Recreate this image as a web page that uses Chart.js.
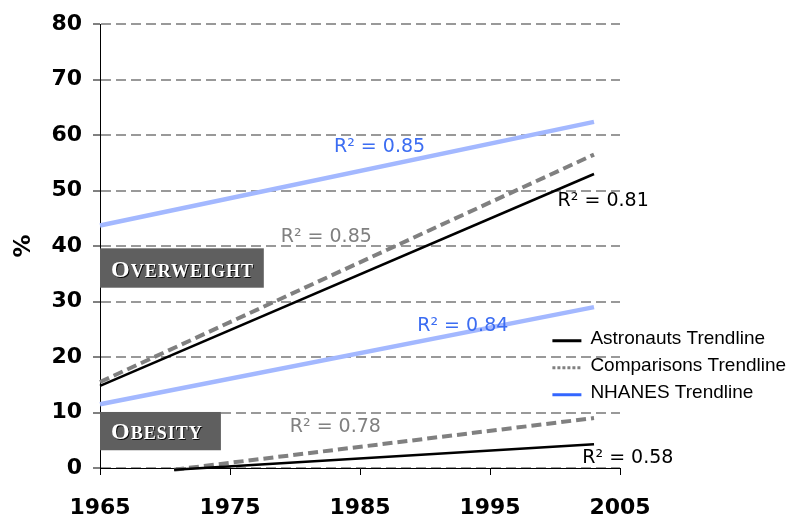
<!DOCTYPE html>
<html>
<head>
<meta charset="utf-8">
<script src="https://cdn.jsdelivr.net/npm/chart.js@4.4.0/dist/chart.umd.min.js"></script>
<style>
  html, body { margin: 0; padding: 0; background: #fff; }
  #wrap { width: 803px; height: 521px; }
</style>
</head>
<body>
<div id="wrap"><canvas id="trendChart"></canvas></div>
<script>
// trendline end points
const trendYears = [1965, 2003];
const obesityYears = [1970.7, 2003];
const astronautsOverweight = [14.8, 53.0];
const comparisonsOverweight = [15.5, 56.5];
const nhanesOverweight = [43.7, 62.4];
const astronautsObesity = [-0.3, 4.3];
const comparisonsObesity = [-0.3, 9.0];
const nhanesObesity = [11.5, 29.0];

const xTicks = [1965, 1975, 1985, 1995, 2005];
const yTicks = [0, 10, 20, 30, 40, 50, 60, 70, 80];

const legendLabels = ['Astronauts Trendline', 'Comparisons Trendline', 'NHANES Trendline'];
const r2Values = ['0.85', '0.81', '0.85', '0.84', '0.78', '0.58'];

const BLACK = '#000000';
const GRAY = '#808080';
const GRID_GRAY = '#999999';
const LIGHT_BLUE = '#a3b8ff';
const BLUE_TEXT = '#3c6df2';
const LEGEND_BLUE = '#3366ff';

function pts(xs, ys) {
    return xs.map((x, i) => ({ x: x, y: ys[i] }));
}

// where the R² labels sit (data units) and their colour
const r2Places = [
    { x: 1983.0, y: 57.9, color: BLUE_TEXT },
    { x: 2000.2, y: 48.1, color: BLACK },
    { x: 1978.9, y: 41.6, color: GRAY },
    { x: 1989.4, y: 25.5, color: BLUE_TEXT },
    { x: 1979.6, y: 7.4, color: GRAY },
    { x: 2002.1, y: 1.8, color: BLACK }
];

function drawBox(ctx, x, y, x0, x1, yTop, yBot, first, rest) {
    const left = x.getPixelForValue(x0);
    const right = x.getPixelForValue(x1);
    const top = y.getPixelForValue(yTop);
    const bottom = y.getPixelForValue(yBot);
    ctx.fillStyle = '#5f5f5f';
    ctx.fillRect(left, top, right - left, bottom - top);
    ctx.save();
    ctx.fillStyle = '#ffffff';
    ctx.shadowColor = 'rgba(0,0,0,0.9)';
    ctx.shadowOffsetX = 1;
    ctx.shadowOffsetY = 1;
    ctx.textBaseline = 'alphabetic';
    ctx.textAlign = 'left';
    ctx.letterSpacing = '1px';
    ctx.font = 'bold 24px "Liberation Serif"';
    const tx = left + 11;
    const ty = bottom - 11;
    ctx.fillText(first, tx, ty);
    const w = ctx.measureText(first).width;
    ctx.font = 'bold 18px "Liberation Serif"';
    ctx.fillText(rest, tx + w, ty);
    ctx.restore();
}

const annotations = {
    id: 'annotations',
    afterDatasetsDraw(chart) {
        const { ctx, scales: { x, y } } = chart;
        ctx.save();

        drawBox(ctx, x, y, 1965, 1977.6, 39.6, 32.5, 'O', 'VERWEIGHT');
        drawBox(ctx, x, y, 1965, 1974.3, 10.1, 3.2, 'O', 'BESITY');

        // R² labels
        ctx.font = '19px "DejaVu Sans"';
        ctx.textAlign = 'left';
        ctx.textBaseline = 'middle';
        r2Places.forEach((p, i) => {
            ctx.fillStyle = p.color;
            ctx.fillText('R² = ' + r2Values[i], x.getPixelForValue(p.x), y.getPixelForValue(p.y));
        });

        // legend
        const lx = x.getPixelForValue(1999.8);
        let ly = y.getPixelForValue(23.3);
        const samples = [
            { color: BLACK, width: 3, dash: [] },
            { color: GRAY, width: 3, dash: [3, 2] },
            { color: LEGEND_BLUE, width: 3, dash: [] }
        ];
        ctx.font = '19px "Liberation Sans"';
        ctx.textBaseline = 'middle';
        legendLabels.forEach((label, i) => {
            const s = samples[i];
            ctx.beginPath();
            ctx.setLineDash(s.dash);
            ctx.lineWidth = s.width;
            ctx.strokeStyle = s.color;
            ctx.moveTo(lx, ly + 2);
            ctx.lineTo(lx + 29, ly + 2);
            ctx.stroke();
            ctx.setLineDash([]);
            ctx.fillStyle = BLACK;
            ctx.fillText(label, lx + 38, ly);
            ly += 27;
        });

        ctx.restore();
    }
};

const tickFont = { family: 'DejaVu Sans', size: 22, weight: 'bold' };

const trendChart = new Chart(document.getElementById('trendChart').getContext('2d'), {
    type: 'line',
    data: {
        datasets: [
            {
                label: 'Astronauts overweight',
                data: pts(trendYears, astronautsOverweight),
                borderColor: BLACK,
                borderWidth: 2.5
            },
            {
                label: 'Astronauts obesity',
                data: pts(obesityYears, astronautsObesity),
                borderColor: BLACK,
                borderWidth: 2.5
            },
            {
                label: 'Comparisons overweight',
                data: pts(trendYears, comparisonsOverweight),
                borderColor: GRAY,
                borderWidth: 4,
                borderDash: [10, 5]
            },
            {
                label: 'Comparisons obesity',
                data: pts(obesityYears, comparisonsObesity),
                borderColor: GRAY,
                borderWidth: 4,
                borderDash: [10, 5]
            },
            {
                label: 'NHANES overweight',
                data: pts(trendYears, nhanesOverweight),
                borderColor: LIGHT_BLUE,
                borderWidth: 4.5
            },
            {
                label: 'NHANES obesity',
                data: pts(trendYears, nhanesObesity),
                borderColor: LIGHT_BLUE,
                borderWidth: 4.5
            }
        ]
    },
    options: {
        responsive: true,
        maintainAspectRatio: false,
        animation: false,
        layout: {
            padding: { top: 22, right: 183, left: 0, bottom: 0 }
        },
        elements: {
            point: { radius: 0 },
            line: { tension: 0, fill: false }
        },
        datasets: {
            line: { clip: false }
        },
        scales: {
            x: {
                type: 'linear',
                min: 1965,
                max: 2005,
                afterBuildTicks: (s) => { s.ticks = xTicks.map(v => ({ value: v })); },
                afterFit: (s) => { s.height = 53; },
                ticks: {
                    color: BLACK,
                    font: tickFont,
                    padding: 20,
                    maxRotation: 0,
                    callback: (v) => String(v)
                },
                grid: {
                    drawOnChartArea: false,
                    drawTicks: true,
                    tickLength: 7,
                    tickColor: BLACK,
                    color: BLACK
                },
                border: { color: BLACK, width: 1 }
            },
            y: {
                min: 0,
                max: 80,
                afterBuildTicks: (s) => { s.ticks = yTicks.map(v => ({ value: v })); },
                afterFit: (s) => { s.width = 100; },
                ticks: {
                    color: BLACK,
                    font: tickFont,
                    padding: 11,
                    callback: (v) => String(v)
                },
                title: {
                    display: true,
                    text: '%',
                    color: BLACK,
                    font: { family: 'DejaVu Sans', size: 23, weight: 'bold' },
                    padding: { top: 10, bottom: 0 }
                },
                grid: {
                    color: GRID_GRAY,
                    lineWidth: 2,
                    tickLength: 7,
                    tickColor: BLACK,
                    tickWidth: 1,
                    tickBorderDash: []
                },
                border: { color: BLACK, width: 1, dash: [10, 5] }
            }
        },
        plugins: {
            legend: { display: false },
            tooltip: { enabled: false }
        }
    },
    plugins: [annotations]
});
</script>
</body>
</html>
